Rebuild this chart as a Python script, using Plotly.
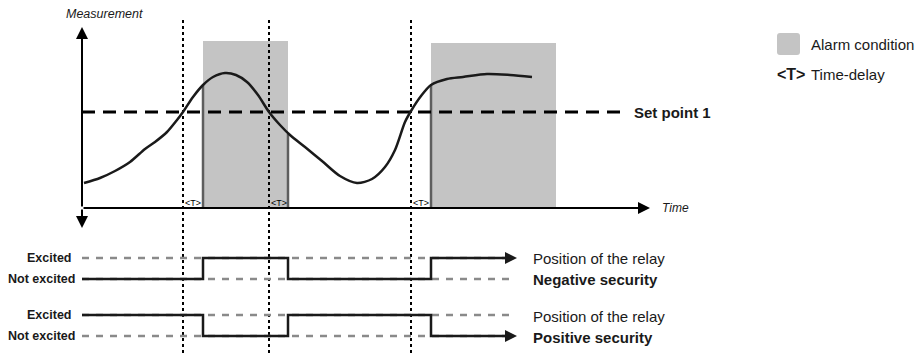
import numpy as np
import plotly.graph_objects as go

# measurement curve (diagram units: px-like, y grows downward)
curve_x = [84, 100, 115, 130, 145, 155, 167, 177, 183, 193, 203, 213, 225, 236, 247, 258, 269,
           280, 290, 305, 322, 340, 357, 372, 385, 395, 405, 411, 421, 431, 447, 463, 487, 510, 532]
curve_y = [183, 178, 171, 162, 149, 142, 132, 120, 112, 97, 85, 77, 73, 75, 82, 95, 112,
           125, 135, 147, 161, 176, 183, 179, 167, 150, 122, 111, 96, 85, 79, 77, 74, 75, 77]

set_point = 112
set_point_end = 626

# alarm windows and the delay markers in front of them
alarm_start = [203, 431]
alarm_end = [288, 556]
alarm_top = [41, 43]
edge_x = [203, 288, 431]
edge_top = [85, 134, 85]
delay_start = [183, 269, 411]

# relay states at each switching time
switch_x = [82, 203, 288, 431, 517]
negative_state = [0, 1, 0, 1, 1]
positive_state = [1, 0, 1, 0, 0]

axis_left = 82
time_axis_y = 208
time_axis_end = 650
relay_dash_end = 514

neg_levels = {"Excited": 258, "Not excited": 279}
pos_levels = {"Excited": 315, "Not excited": 336}
label_right = {"Excited": 73, "Not excited": 77}

FONT = "Liberation Sans, Arial"
ALARM_GRAY = "#c4c4c4"
DARK = "#1a1a1a"

fig = go.Figure()

# alarm rectangles
for x0, x1, top in zip(alarm_start, alarm_end, alarm_top):
    fig.add_shape(type="rect", x0=x0, x1=x1, y0=top, y1=time_axis_y,
                  fillcolor=ALARM_GRAY, line_width=0, layer="below")

# dark edges of the alarm windows
for ex, et in zip(edge_x, edge_top):
    fig.add_trace(go.Scatter(x=[ex, ex], y=[et, time_axis_y], mode="lines",
                             line=dict(color="#5e5e5e", width=2.5), hoverinfo="skip"))

# dotted time markers
for dx in delay_start:
    fig.add_trace(go.Scatter(x=[dx, dx], y=[20, 356], mode="lines",
                             line=dict(color="black", width=2, dash="dot"), hoverinfo="skip"))

# set point
fig.add_trace(go.Scatter(x=[axis_left, set_point_end], y=[set_point, set_point], mode="lines",
                         line=dict(color="black", width=3, dash="13px,8px"), hoverinfo="skip"))

# measurement curve
fig.add_trace(go.Scatter(x=curve_x, y=curve_y, mode="lines",
                         line=dict(color=DARK, width=2.5, shape="spline", smoothing=0.8),
                         hoverinfo="skip"))

# axes with arrows
fig.add_annotation(x=axis_left, y=27, ax=axis_left, ay=time_axis_y, xref="x", yref="y",
                   axref="x", ayref="y", showarrow=True, arrowhead=2, arrowsize=1.2,
                   arrowwidth=2, arrowcolor="black", text="")
fig.add_annotation(x=axis_left, y=228, ax=axis_left, ay=time_axis_y, xref="x", yref="y",
                   axref="x", ayref="y", showarrow=True, arrowhead=2, arrowsize=1.2,
                   arrowwidth=2, arrowcolor="black", text="")
fig.add_annotation(x=time_axis_end, y=time_axis_y, ax=axis_left, ay=time_axis_y, xref="x",
                   yref="y", axref="x", ayref="y", showarrow=True, arrowhead=2, arrowsize=1.2,
                   arrowwidth=2, arrowcolor="black", text="")

# relay diagrams
for levels, states in ((neg_levels, negative_state), (pos_levels, positive_state)):
    for lvl in levels.values():
        fig.add_trace(go.Scatter(x=[axis_left, relay_dash_end], y=[lvl, lvl], mode="lines",
                                 line=dict(color="#8a8a8a", width=2.5, dash="7px,7px"),
                                 hoverinfo="skip"))
    ys = [levels["Excited"] if s else levels["Not excited"] for s in states]
    fig.add_trace(go.Scatter(x=switch_x[:-1] + [switch_x[-1] - 6], y=ys, mode="lines",
                             line=dict(color=DARK, width=2.5, shape="hv"), hoverinfo="skip"))
    fig.add_annotation(x=switch_x[-1], y=ys[-1], ax=switch_x[-1] - 10, ay=ys[-1], xref="x",
                       yref="y", axref="x", ayref="y", showarrow=True, arrowhead=2,
                       arrowsize=1.2, arrowwidth=2, arrowcolor=DARK, text="")
    for name, lvl in levels.items():
        fig.add_annotation(x=label_right[name], y=lvl, text="<b>%s</b>" % name,
                           showarrow=False, xanchor="right",
                           font=dict(family=FONT, size=12.5, color=DARK))

# texts
fig.add_annotation(x=64, y=14, text="<i>Measurement</i>", showarrow=False, xanchor="left",
                   font=dict(family=FONT, size=12.5, color=DARK))
fig.add_annotation(x=660, y=208, text="<i>Time</i>", showarrow=False, xanchor="left",
                   font=dict(family=FONT, size=12, color=DARK))
fig.add_annotation(x=632, y=112, text="<b>Set point 1</b>", showarrow=False, xanchor="left",
                   font=dict(family=FONT, size=15, color=DARK))
for dx, ex in zip(delay_start, edge_x):
    fig.add_annotation(x=(dx + ex) / 2, y=203, text="<T>", showarrow=False,
                       font=dict(family=FONT, size=9, color="black"))

for y, txt in ((258, "Position of the relay"), (279, "<b>Negative security</b>"),
               (316, "Position of the relay"), (337, "<b>Positive security</b>")):
    fig.add_annotation(x=531, y=y, text=txt, showarrow=False, xanchor="left",
                       font=dict(family=FONT, size=15, color=DARK))

# legend: rounded grey swatch
fig.add_shape(type="path",
              path="M 780 33 L 797 33 Q 800 33 800 36 L 800 52 Q 800 55 797 55 "
                   "L 780 55 Q 777 55 777 52 L 777 36 Q 777 33 780 33 Z",
              fillcolor=ALARM_GRAY, line_width=0)
fig.add_annotation(x=809, y=44, text="Alarm condition", showarrow=False, xanchor="left",
                   font=dict(family=FONT, size=15, color=DARK))
fig.add_annotation(x=807, y=74, text="<b><T></b>", showarrow=False, xanchor="right",
                   font=dict(family=FONT, size=16, color=DARK))
fig.add_annotation(x=809, y=74, text="Time-delay", showarrow=False, xanchor="left",
                   font=dict(family=FONT, size=15, color=DARK))

fig.update_layout(
    width=919, height=356,
    margin=dict(l=0, r=0, t=0, b=0),
    plot_bgcolor="white", paper_bgcolor="white",
    showlegend=False,
    xaxis=dict(range=[0, 919], visible=False, fixedrange=True),
    yaxis=dict(range=[356, 0], visible=False, fixedrange=True),
)

fig.write_html("out.html", config={"displayModeBar": False},
               post_script="document.body.style.margin='0';")
